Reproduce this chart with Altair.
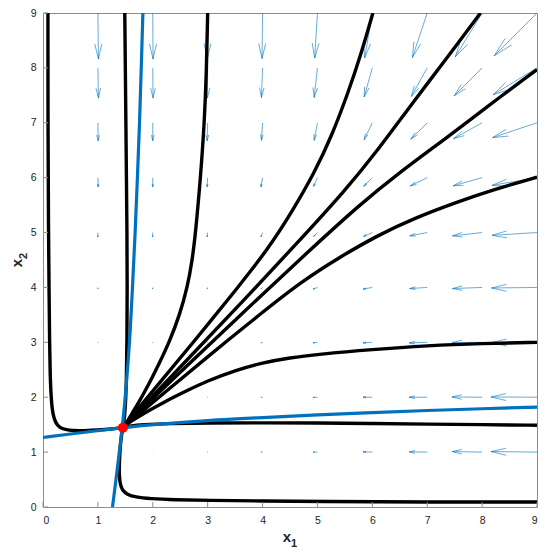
import altair as alt
import pandas as pd

# ---------------- data ----------------
ticks = [0, 1, 2, 3, 4, 5, 6, 7, 8, 9]
grid_pts = [1, 2, 3, 4, 5, 6, 7, 8, 9]

# quiver components (already in plotted data units), rows = x2 (1..9), cols = x1 (1..9)
U = [
    [0.000, -0.003, -0.01, -0.03, -0.08, -0.17, -0.33, -0.55, -0.84],
    [0.000, -0.003, -0.01, -0.03, -0.08, -0.17, -0.33, -0.55, -0.84],
    [0.000, -0.003, -0.01, -0.03, -0.08, -0.17, -0.33, -0.55, -0.83],
    [0.000, -0.003, -0.01, -0.03, -0.08, -0.17, -0.32, -0.54, -0.83],
    [0.000, -0.003, -0.01, -0.03, -0.07, -0.16, -0.32, -0.54, -0.82],
    [0.005, 0.000, -0.01, -0.03, -0.07, -0.16, -0.31, -0.53, -0.82],
    [0.005, 0.000, -0.01, -0.02, -0.06, -0.15, -0.30, -0.52, -0.81],
    [0.010, 0.005, -0.005, -0.02, -0.06, -0.15, -0.29, -0.51, -0.80],
    [0.010, 0.005, -0.005, -0.01, -0.05, -0.14, -0.27, -0.49, -0.78],
]
V = [
    [0.000, 0.000, 0.000, 0.000, 0.000, 0.005, 0.005, 0.010, 0.010],
    [-0.003, -0.003, -0.003, -0.003, -0.003, 0.000, 0.000, 0.005, 0.005],
    [-0.01, -0.01, -0.01, -0.01, -0.01, -0.01, -0.01, -0.005, -0.005],
    [-0.03, -0.03, -0.03, -0.03, -0.03, -0.03, -0.02, -0.02, -0.01],
    [-0.08, -0.08, -0.08, -0.08, -0.07, -0.07, -0.06, -0.06, -0.05],
    [-0.17, -0.17, -0.17, -0.17, -0.16, -0.16, -0.15, -0.15, -0.14],
    [-0.33, -0.33, -0.33, -0.32, -0.32, -0.31, -0.30, -0.29, -0.27],
    [-0.55, -0.55, -0.55, -0.54, -0.54, -0.53, -0.52, -0.51, -0.49],
    [-0.84, -0.84, -0.83, -0.83, -0.82, -0.82, -0.81, -0.80, -0.78],
]

# nullclines (x2 = g(x1) and x1 = g(x2))
null_s = [0.0, 0.5, 1.0, 1.45, 2.0, 3.0, 4.0, 5.0, 6.0, 7.0, 8.0, 9.0]
null_g = [1.266, 1.33, 1.39, 1.445, 1.50, 1.58, 1.63, 1.68, 1.72, 1.76, 1.79, 1.82]

# equilibrium
eq_x = [1.455]
eq_y = [1.445]

# trajectories
traj = {
    "a": ([0.09, 0.09, 0.10, 0.11, 0.12, 0.13, 0.15, 0.18, 0.23, 0.30, 0.40, 0.55, 0.75, 1.00, 1.25, 1.455],
          [9.0, 7.0, 5.0, 4.0, 3.0, 2.4, 1.95, 1.68, 1.53, 1.45, 1.41, 1.39, 1.39, 1.40, 1.42, 1.445]),
    "b": ([9.0, 7.0, 5.0, 4.0, 3.0, 2.4, 1.95, 1.68, 1.53, 1.45, 1.41, 1.39, 1.39, 1.40, 1.42, 1.455],
          [0.09, 0.09, 0.10, 0.11, 0.12, 0.13, 0.15, 0.18, 0.23, 0.30, 0.40, 0.55, 0.75, 1.00, 1.25, 1.445]),
    "c": ([1.49, 1.50, 1.51, 1.52, 1.53, 1.535, 1.53, 1.52, 1.50, 1.48, 1.455],
          [9.0, 8.0, 7.0, 6.0, 5.0, 4.0, 3.0, 2.3, 1.8, 1.6, 1.445]),
    "d": ([9.0, 8.0, 7.0, 6.0, 5.0, 4.0, 3.0, 2.3, 1.8, 1.6, 1.455],
          [1.49, 1.50, 1.51, 1.52, 1.53, 1.535, 1.53, 1.52, 1.50, 1.48, 1.445]),
    "e": ([3.0, 2.98, 2.94, 2.87, 2.78, 2.72, 2.63, 2.49, 2.30, 2.11, 1.91, 1.74, 1.62, 1.53, 1.455],
          [9.0, 8.0, 7.0, 6.0, 5.0, 4.5, 4.0, 3.5, 3.0, 2.6, 2.2, 1.9, 1.7, 1.55, 1.445]),
    "f": ([9.0, 8.0, 7.0, 6.0, 5.0, 4.5, 4.0, 3.5, 3.0, 2.6, 2.2, 1.9, 1.7, 1.55, 1.455],
          [3.0, 2.98, 2.94, 2.87, 2.78, 2.72, 2.63, 2.49, 2.30, 2.11, 1.91, 1.74, 1.62, 1.53, 1.445]),
    "g": ([6.01, 5.80, 5.56, 5.26, 4.95, 4.55, 4.10, 3.55, 2.74, 2.07, 1.74, 1.455],
          [9.0, 8.27, 7.55, 6.76, 6.10, 5.40, 4.70, 4.00, 3.00, 2.20, 1.80, 1.445]),
    "j": ([9.0, 8.27, 7.55, 6.76, 6.10, 5.40, 4.70, 4.00, 3.00, 2.20, 1.80, 1.455],
          [6.01, 5.80, 5.56, 5.26, 4.95, 4.55, 4.10, 3.55, 2.74, 2.07, 1.74, 1.445]),
    "h": ([7.97, 7.30, 6.76, 6.10, 5.50, 4.65, 3.55, 2.50, 1.80, 1.455],
          [9.0, 8.10, 7.40, 6.50, 5.76, 4.83, 3.65, 2.55, 1.81, 1.445]),
    "i": ([9.0, 8.10, 7.40, 6.50, 5.76, 4.83, 3.65, 2.55, 1.81, 1.455],
          [7.97, 7.30, 6.76, 6.10, 5.50, 4.65, 3.55, 2.50, 1.80, 1.445]),
}

# ---------------- tables ----------------
alpha, beta = 0.33, 0.23
seg = []
for r, yv in enumerate(grid_pts):
    for c, xv in enumerate(grid_pts):
        u, v = U[r][c], V[r][c]
        tx, ty = xv + u, yv + v
        seg.append(dict(x=xv, y=yv, x2=tx, y2=ty))
        seg.append(dict(x=tx - alpha * (u + beta * v), y=ty - alpha * (v - beta * u), x2=tx, y2=ty))
        seg.append(dict(x=tx - alpha * (u - beta * v), y=ty - alpha * (v + beta * u), x2=tx, y2=ty))
arrows = pd.DataFrame(seg)

rows = []
for k, (xs, ys) in traj.items():
    for i, (a, b) in enumerate(zip(xs, ys)):
        rows.append(dict(id=k, i=i, x=a, y=b))
traj_df = pd.DataFrame(rows)

nrows = []
for i, (s, g) in enumerate(zip(null_s, null_g)):
    nrows.append(dict(id="h", i=i, x=s, y=g))
    nrows.append(dict(id="v", i=i, x=g, y=s))
null_df = pd.DataFrame(nrows)

eq_df = pd.DataFrame({"x": eq_x, "y": eq_y})
tick_df = pd.DataFrame({"t": ticks})

W = H = 494
AX = "#8c8c8c"
FONT = "Liberation Sans"
xs_ = alt.Scale(domain=[0, 9], nice=False, zero=False)
ys_ = alt.Scale(domain=[0, 9], nice=False, zero=False)
xax = alt.Axis(values=ticks, format="d", tickSize=0, labelPadding=8, domain=False, grid=False, title=None,
               labelFont=FONT, labelFontSize=10.5, labelColor="#262626")
yax = alt.Axis(values=ticks, format="d", tickSize=0, labelPadding=7, domain=False, grid=False, title=None,
               labelFont=FONT, labelFontSize=10.5, labelColor="#262626")

arrow_layer = alt.Chart(arrows).mark_rule(color="#0072BD", strokeWidth=0.7, opacity=0.85).encode(
    x=alt.X("x:Q", scale=xs_, axis=xax), y=alt.Y("y:Q", scale=ys_, axis=yax),
    x2="x2:Q", y2="y2:Q")

traj_layer = alt.Chart(traj_df).mark_line(color="black", strokeWidth=3.4, interpolate="basis",
                                          clip=True).encode(
    x=alt.X("x:Q", scale=xs_), y=alt.Y("y:Q", scale=ys_), detail="id:N", order="i:Q")

null_layer = alt.Chart(null_df).mark_line(color="#0072BD", strokeWidth=3.2, interpolate="basis",
                                          clip=True).encode(
    x=alt.X("x:Q", scale=xs_), y=alt.Y("y:Q", scale=ys_), detail="id:N", order="i:Q")

eq_layer = alt.Chart(eq_df).mark_circle(color="#ff0000", size=100, opacity=1).encode(
    x=alt.X("x:Q", scale=xs_), y=alt.Y("y:Q", scale=ys_))

xtick_layer = alt.Chart(tick_df).mark_rule(color=AX, strokeWidth=1).encode(
    x=alt.X("t:Q", scale=xs_), y=alt.value(H), y2=alt.value(H - 5))
ytick_layer = alt.Chart(tick_df).mark_rule(color=AX, strokeWidth=1).encode(
    y=alt.Y("t:Q", scale=ys_), x=alt.value(0), x2=alt.value(5))

one = pd.DataFrame({"d": [0]})
tx_x = alt.Chart(one).mark_text(text="x", font=FONT, fontSize=15, fontWeight="bold",
                                color="#262626").encode(x=alt.value(W / 2 - 3), y=alt.value(H + 30))
tx_1 = alt.Chart(one).mark_text(text="1", font=FONT, fontSize=11, fontWeight="bold",
                                color="#262626").encode(x=alt.value(W / 2 + 4), y=alt.value(H + 37))
ty_x = alt.Chart(one).mark_text(text="x", font=FONT, fontSize=15, fontWeight="bold",
                                color="#262626", angle=270).encode(x=alt.value(-26), y=alt.value(H / 2 + 3))
ty_2 = alt.Chart(one).mark_text(text="2", font=FONT, fontSize=11, fontWeight="bold",
                                color="#262626", angle=270).encode(x=alt.value(-19), y=alt.value(H / 2 - 4))

chart = alt.layer(arrow_layer, traj_layer, null_layer, eq_layer, xtick_layer, ytick_layer,
                  tx_x, tx_1, ty_x, ty_2).properties(
    width=W, height=H,
    autosize=alt.AutoSizeParams(type="none"),
    padding={"left": 35, "top": 5, "right": 4, "bottom": 42},
).configure_view(stroke=AX, strokeWidth=1)

chart.save("out.html", embed_options={"renderer": "svg", "actions": False})
